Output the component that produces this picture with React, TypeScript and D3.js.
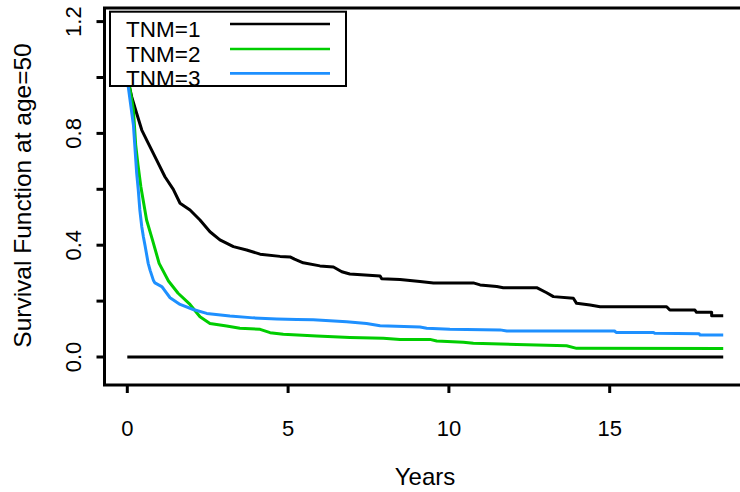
import React from "react";
import * as d3 from "d3";

const W = 740;
const H = 492;

// [years, survival]
const tnm1: [number, number][] = [
  [0, 1], [0.14, 0.93], [0.29, 0.872], [0.45, 0.812], [0.65, 0.765], [0.91, 0.705],
  [1.17, 0.645], [1.43, 0.6], [1.64, 0.55], [1.95, 0.526], [2.26, 0.49], [2.57, 0.448],
  [2.88, 0.419], [3.3, 0.395], [3.71, 0.383], [4.13, 0.368], [4.75, 0.36], [5.06, 0.358],
  [5.2, 0.35], [5.47, 0.337], [5.99, 0.326], [6.41, 0.322], [6.67, 0.305], [6.92, 0.297],
  [7.86, 0.29], [7.91, 0.28], [8.48, 0.277], [9.1, 0.27], [9.52, 0.265], [10.76, 0.265],
  [10.97, 0.258], [11.49, 0.252], [11.69, 0.248], [12.73, 0.248], [13.04, 0.23],
  [13.25, 0.216], [13.87, 0.21], [13.97, 0.192], [14.39, 0.186], [14.7, 0.18],
  [16.77, 0.18], [16.87, 0.168], [17.65, 0.168], [17.7, 0.16], [18.17, 0.16],
  [18.17, 0.148], [18.53, 0.148],
];

const tnm2: [number, number][] = [
  [0, 1], [0.08, 0.961], [0.19, 0.884], [0.26, 0.76], [0.33, 0.69], [0.42, 0.61],
  [0.6, 0.49], [0.78, 0.42], [0.99, 0.335], [1.28, 0.272], [1.58, 0.228], [1.95, 0.188],
  [2.26, 0.144], [2.57, 0.12], [3.09, 0.111], [3.5, 0.103], [4.13, 0.099], [4.44, 0.087],
  [4.85, 0.081], [5.89, 0.075], [6.92, 0.07], [7.96, 0.067], [8.48, 0.063], [9.41, 0.063],
  [9.62, 0.057], [10.45, 0.053], [10.76, 0.049], [12.11, 0.045], [13.66, 0.04],
  [13.97, 0.031], [18.53, 0.03],
];

const tnm3: [number, number][] = [
  [0, 1], [0.03, 0.967], [0.19, 0.83], [0.29, 0.66], [0.34, 0.6], [0.39, 0.526],
  [0.45, 0.466], [0.5, 0.43], [0.55, 0.4], [0.65, 0.335], [0.71, 0.31], [0.81, 0.275],
  [0.86, 0.265], [1.07, 0.252], [1.12, 0.245], [1.33, 0.212], [1.64, 0.188], [2.05, 0.17],
  [2.47, 0.156], [3.19, 0.147], [3.92, 0.14], [4.65, 0.136], [5.27, 0.134], [5.78, 0.133],
  [6.82, 0.126], [7.44, 0.12], [7.86, 0.112], [9.1, 0.107], [9.31, 0.103], [10.03, 0.099],
  [11.59, 0.097], [11.8, 0.093], [15.15, 0.093], [15.2, 0.088], [16.36, 0.088],
  [16.4, 0.085], [17.78, 0.083], [17.81, 0.079], [18.53, 0.079],
];

const zeroLine: [number, number][] = [[0, 0], [18.53, 0]];

const seriesNames = ["TNM=1", "TNM=2", "TNM=3"];
const seriesColors = ["#000000", "#00CD00", "#1E90FF"];
const seriesData = [tnm1, tnm2, tnm3];

const xTicks = [0, 5, 10, 15];
const yTicks = [0, 0.2, 0.4, 0.6, 0.8, 1.0, 1.2];
const yTickLabels = ["0.0", "", "0.4", "", "0.8", "", "1.2"];

const xLabel = "Years";
const yLabel = "Survival Function at age=50";

const FONT = "'Liberation Sans', Arial, Helvetica, sans-serif";

export default function App() {
  const x = d3.scaleLinear().domain([0, 15]).range([127.3, 609.7]);
  const y = d3.scaleLinear().domain([0, 1.2]).range([357, 21.6]);

  const box = { left: 104.5, top: 8, right: 748, bottom: 385 };

  const line = d3
    .line<[number, number]>()
    .x((d) => x(d[0]))
    .y((d) => y(d[1]))
    .curve(d3.curveLinear);

  const legend = { x: 110, y: 11.7, w: 236, h: 74.3 };
  const legendRowY = [24, 49, 73.3];

  return (
    <svg
      width={W}
      height={H}
      style={{ position: "absolute", left: 0, top: 0, background: "#fff" }}
      fontFamily={FONT}
    >
      <rect x={0} y={0} width={W} height={H} fill="#fff" />

      {/* curves */}
      <path d={line(zeroLine) || ""} fill="none" stroke="#000" strokeWidth={3} />
      {seriesData.map((s, i) => (
        <path
          key={i}
          d={line(s) || ""}
          fill="none"
          stroke={seriesColors[i]}
          strokeWidth={3}
          strokeLinejoin="round"
        />
      ))}

      {/* box */}
      <rect
        x={box.left}
        y={box.top}
        width={box.right - box.left}
        height={box.bottom - box.top}
        fill="none"
        stroke="#000"
        strokeWidth={3}
      />

      {/* x axis ticks */}
      {xTicks.map((t) => (
        <g key={t}>
          <line x1={x(t)} x2={x(t)} y1={box.bottom} y2={box.bottom + 8} stroke="#000" strokeWidth={3} />
          <text x={x(t)} y={435.5} fontSize={22} textAnchor="middle" fill="#000">
            {t}
          </text>
        </g>
      ))}

      {/* y axis ticks */}
      {yTicks.map((t, i) => (
        <g key={t}>
          <line x1={box.left - 8} x2={box.left} y1={y(t)} y2={y(t)} stroke="#000" strokeWidth={3} />
          {yTickLabels[i] && (
            <text
              transform={`translate(80.5,${y(t)}) rotate(-90)`}
              fontSize={22}
              textAnchor="middle"
              fill="#000"
            >
              {yTickLabels[i]}
            </text>
          )}
        </g>
      ))}

      {/* axis titles */}
      <text x={425} y={485} fontSize={24} textAnchor="middle" fill="#000">
        {xLabel}
      </text>
      <text
        transform={`translate(30.5,${(box.top + box.bottom) / 2 - 1}) rotate(-90)`}
        fontSize={24.5}
        textAnchor="middle"
        fill="#000"
      >
        {yLabel}
      </text>

      {/* legend */}
      <rect x={legend.x} y={legend.y} width={legend.w} height={legend.h} fill="#fff" stroke="#000" strokeWidth={2} />
      {seriesNames.map((n, i) => (
        <g key={n}>
          <line
            x1={230}
            x2={330}
            y1={legendRowY[i]}
            y2={legendRowY[i]}
            stroke={seriesColors[i]}
            strokeWidth={2.7}
          />
          <text x={126} y={legendRowY[i] + 12.5} fontSize={22.5} fill="#000">
            {n}
          </text>
        </g>
      ))}
    </svg>
  );
}
